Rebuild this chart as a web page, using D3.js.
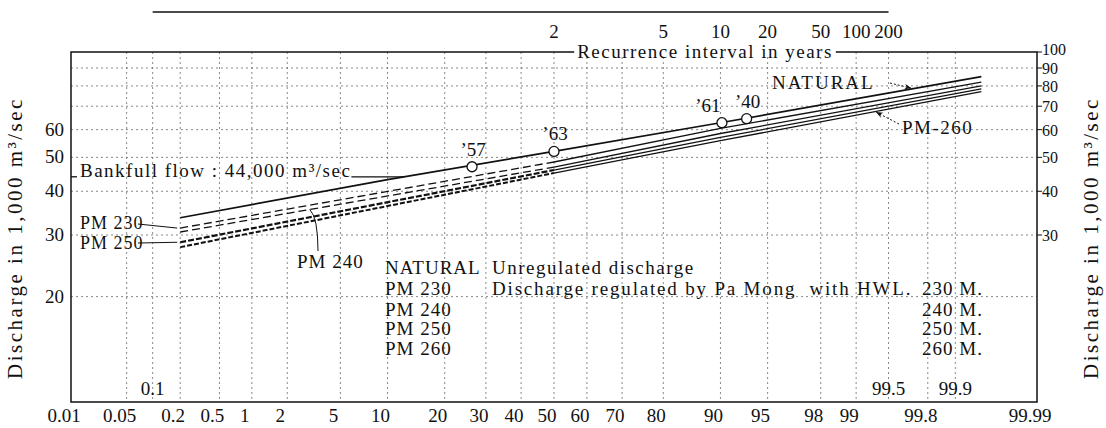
<!DOCTYPE html>
<html>
<head>
<meta charset="utf-8">
<script src="https://cdn.jsdelivr.net/npm/d3@7"></script>
<style>
  body { margin: 0; background: #fff; }
  text { font-family: "Liberation Serif", "Times New Roman", serif; fill: #111; }
</style>
</head>
<body>
<svg id="chart" width="1106" height="428"></svg>
<script>
// Flood frequency on log-probability paper:
// non-exceedance probability (%) against discharge (1,000 m3/sec).

const probTicks = [0.01, 0.05, 0.2, 0.5, 1, 2, 5, 10, 20, 30, 40, 50, 60, 70, 80, 90, 95, 98, 99, 99.8, 99.99];
const probTicksInner = [0.1, 99.5, 99.9];
const probGrid = [0.05, 0.1, 0.2, 0.5, 1, 2, 5, 10, 20, 30, 40, 50, 60, 70, 80, 90, 95, 98, 99, 99.5, 99.8, 99.9];
const returnPeriods = [2, 5, 10, 20, 50, 100, 200];
const qTicksLeft = [20, 30, 40, 50, 60];
const qTicksRight = [30, 40, 50, 60, 70, 80, 90, 100];
const qGrid = [20, 30, 40, 50, 60, 70, 80, 90];

const seriesNames = ["NATURAL", "PM 230", "PM 240", "PM 250", "PM 260"];
const natural = [[0.2, 33.6], [10, 43.2], [50, 52.0], [90, 62.8], [99.95, 85.0]];
const pm230   = [[0.2, 31.4], [50, 48.5], [90, 60.5], [99.95, 82.0]];
const pm240   = [[0.2, 30.6], [50, 46.9], [90, 58.5], [99.95, 80.0]];
const pm250   = [[0.2, 28.6], [50, 46.0], [90, 57.0], [99.95, 78.5]];
const pm260   = [[0.2, 27.7], [50, 45.1], [90, 55.8], [99.95, 77.0]];
const legendText = ["Unregulated discharge", "Discharge regulated by Pa Mong  with HWL.", "", "", ""];
const legendLevel = ["", "230 M.", "240 M.", "250 M.", "260 M."];

const floodYears = ["\u201957", "\u201963", "\u201961", "\u201940"];
const floodProb = [26.4, 50, 90.2, 93.1];
const floodQ = [47.0, 52.0, 62.8, 64.5];

const bankfullQ = 44;
const dashedBelow = 50;   // regulated curves are dashed up to this probability

// inverse standard normal CDF (Acklam)
function probit(p) {
  const a = [-3.969683028665376e+01, 2.209460984245205e+02, -2.759285104469687e+02, 1.383577518672690e+02, -3.066479806614716e+01, 2.506628277459239e+00];
  const b = [-5.447609879822406e+01, 1.615858368580409e+02, -1.556989798598866e+02, 6.680131188771972e+01, -1.328068155288572e+01];
  const c = [-7.784894002430293e-03, -3.223964580411365e-01, -2.400758277161838e+00, -2.549732539343734e+00, 4.374664141464968e+00, 2.938163982698783e+00];
  const d = [7.784695709041462e-03, 3.224671290700398e-01, 2.445134137142996e+00, 3.754408661907416e+00];
  const pl = 0.02425, ph = 1 - pl;
  let q, r;
  if (p < pl) {
    q = Math.sqrt(-2 * Math.log(p));
    return (((((c[0]*q+c[1])*q+c[2])*q+c[3])*q+c[4])*q+c[5]) / ((((d[0]*q+d[1])*q+d[2])*q+d[3])*q+1);
  }
  if (p <= ph) {
    q = p - 0.5; r = q * q;
    return (((((a[0]*r+a[1])*r+a[2])*r+a[3])*r+a[4])*r+a[5])*q / (((((b[0]*r+b[1])*r+b[2])*r+b[3])*r+b[4])*r+1);
  }
  q = Math.sqrt(-2 * Math.log(1 - p));
  return -(((((c[0]*q+c[1])*q+c[2])*q+c[3])*q+c[4])*q+c[5]) / ((((d[0]*q+d[1])*q+d[2])*q+d[3])*q+1);
}
function erf(v) {
  const s = Math.sign(v); v = Math.abs(v);
  const t = 1 / (1 + 0.3275911 * v);
  const yv = 1 - (((((1.061405429 * t - 1.453152027) * t) + 1.421413741) * t - 0.284496736) * t + 0.254829592) * t * Math.exp(-v * v);
  return s * yv;
}

const L = 71, R = 1037, T = 52, B = 402;
const zScale = d3.scaleLinear().domain([probit(0.0001), probit(0.9999)]).range([L, R]);
const x = p => zScale(probit(p / 100));
const y = d3.scaleLog().domain([10, 100]).range([B, T]);

// discharge on a series at probability p (straight between read points on this paper)
function qAt(series, p) {
  const z = probit(p / 100);
  for (let i = 0; i < series.length - 1; i++) {
    const z0 = probit(series[i][0] / 100), z1 = probit(series[i + 1][0] / 100);
    if (z <= z1 || i === series.length - 2) {
      const t = (z - z0) / (z1 - z0);
      return Math.pow(10, Math.log10(series[i][1]) + t * (Math.log10(series[i + 1][1]) - Math.log10(series[i][1])));
    }
  }
}
// probability where a series reaches discharge q
function pAtQ(series, q) {
  for (let i = 0; i < series.length - 1; i++) {
    if (q <= series[i + 1][1]) {
      const z0 = probit(series[i][0] / 100), z1 = probit(series[i + 1][0] / 100);
      const t = (Math.log10(q) - Math.log10(series[i][1])) / (Math.log10(series[i + 1][1]) - Math.log10(series[i][1]));
      const z = z0 + t * (z1 - z0);
      return 100 * (0.5 * (1 + erf(z / Math.SQRT2)));
    }
  }
}

const svg = d3.select("#chart");
const fsNum = 19;   // numerals
const fsTxt = 19;   // words
const ls = 1.5;     // letter spacing for words

svg.append("defs").append("marker").attr("id", "arrow")
  .attr("viewBox", "0 0 10 10").attr("refX", 9).attr("refY", 5)
  .attr("markerWidth", 7).attr("markerHeight", 7).attr("orient", "auto-start-reverse")
  .append("path").attr("d", "M0,1 L10,5 L0,9 L3,5 Z").attr("fill", "#111");

const grid = svg.append("g").attr("stroke", "#555").attr("stroke-width", 0.7)
  .attr("stroke-dasharray", "2,3").attr("fill", "none");
grid.selectAll("line.v").data(probGrid).join("line").attr("class", "v")
  .attr("x1", d => x(d)).attr("x2", d => x(d)).attr("y1", T).attr("y2", B);
grid.selectAll("line.h").data(qGrid).join("line").attr("class", "h")
  .attr("x1", L).attr("x2", R).attr("y1", d => y(d)).attr("y2", d => y(d));

// frame
svg.append("rect").attr("x", L).attr("y", T).attr("width", R - L).attr("height", B - T)
  .attr("fill", "none").attr("stroke", "#111").attr("stroke-width", 1.5);

// bottom probability labels
svg.append("g").selectAll("text").data(probTicks).join("text")
  .attr("x", d => x(d) - 7).attr("y", B + 20).attr("text-anchor", "middle")
  .attr("font-size", fsNum).text(d => d);
svg.append("g").selectAll("text").data(probTicksInner).join("text")
  .attr("x", d => x(d)).attr("y", B - 7).attr("text-anchor", "middle")
  .attr("font-size", fsNum).text(d => d);

// recurrence interval axis on top
const yTop = 12;
svg.append("line").attr("x1", x(0.1)).attr("x2", x(99.5)).attr("y1", yTop).attr("y2", yTop)
  .attr("stroke", "#111").attr("stroke-width", 1.6);
svg.append("g").selectAll("text").data(returnPeriods).join("text")
  .attr("x", d => x(100 * (1 - 1 / d))).attr("y", 38).attr("text-anchor", "middle")
  .attr("font-size", fsNum).text(d => d);
const rBack = svg.append("rect").attr("fill", "#fff");
const rTitle = svg.append("text").attr("x", 705).attr("y", T + 6).attr("text-anchor", "middle")
  .attr("font-size", fsTxt).attr("letter-spacing", ls).text("Recurrence interval in years");
const rb = rTitle.node().getBBox();
rBack.attr("x", rb.x - 3).attr("y", T - 3).attr("width", rb.width + 6).attr("height", 6);

// discharge labels
svg.append("g").selectAll("text").data(qTicksLeft).join("text")
  .attr("x", L - 7).attr("y", d => y(d) + 6).attr("text-anchor", "end")
  .attr("font-size", fsNum).text(d => d);
const rightAxis = svg.append("g");
rightAxis.selectAll("line").data(qTicksRight).join("line")
  .attr("x1", R).attr("x2", R + 5).attr("y1", d => y(d)).attr("y2", d => y(d))
  .attr("stroke", "#111").attr("stroke-width", 1);
rightAxis.selectAll("text").data(qTicksRight).join("text")
  .attr("x", R + 5).attr("y", d => y(d) + (d === 100 ? 3 : 6)).attr("font-size", 16).text(d => d);

const yTitle = "Discharge in 1,000 m\u00b3/sec";
svg.append("text").attr("transform", "translate(22,238) rotate(-90)").attr("text-anchor", "middle")
  .attr("font-size", 21).attr("letter-spacing", 2.5).text(yTitle);
svg.append("text").attr("transform", "translate(1098,238) rotate(-90)").attr("text-anchor", "middle")
  .attr("font-size", 21).attr("letter-spacing", 2.5).text(yTitle);

// bankfull flow
const bf = svg.append("text").attr("x", L + 9).attr("y", y(bankfullQ)).attr("font-size", fsTxt)
  .attr("letter-spacing", ls).text("Bankfull flow : 44,000 m\u00b3/sec");
const bfEnd = L + 9 + bf.node().getBBox().width;
const bfCross = x(pAtQ(natural, bankfullQ));
svg.append("line").attr("x1", L).attr("x2", L + 6).attr("y1", y(bankfullQ)).attr("y2", y(bankfullQ))
  .attr("stroke", "#111").attr("stroke-width", 1.3);
svg.append("line").attr("x1", bfEnd).attr("x2", bfCross).attr("y1", y(bankfullQ)).attr("y2", y(bankfullQ))
  .attr("stroke", "#111").attr("stroke-width", 1.3);

// curves
const line = d3.line().x(d => x(d[0])).y(d => y(d[1]));
const regulated = [pm230, pm240, pm250, pm260];
const dashStyle = [
  { dash: "8,4", w: 1.3 },
  { dash: "8,4", w: 1.3 },
  { dash: "6,2", w: 2.2 },
  { dash: "5,2", w: 2.0 }
];
const curves = svg.append("g").attr("fill", "none").attr("stroke", "#111");
regulated.forEach((s, i) => {
  curves.append("path").attr("d", line(s.filter(d => d[0] <= dashedBelow)))
    .attr("stroke-width", dashStyle[i].w).attr("stroke-dasharray", dashStyle[i].dash);
  curves.append("path").attr("d", line(s.filter(d => d[0] >= dashedBelow)))
    .attr("stroke-width", 1.3);
});
curves.append("path").attr("d", line(natural)).attr("stroke-width", 1.7);

// historic floods
svg.append("g").selectAll("circle").data(floodProb).join("circle")
  .attr("cx", d => x(d)).attr("cy", (d, i) => y(floodQ[i])).attr("r", 5)
  .attr("fill", "#fff").attr("stroke", "#111").attr("stroke-width", 1.3);
svg.append("g").selectAll("text").data(floodYears).join("text")
  .attr("x", (d, i) => x(floodProb[i]) - (i === 2 ? 14 : -1)).attr("y", (d, i) => y(floodQ[i]) - 11)
  .attr("text-anchor", "middle").attr("font-size", fsNum).text(d => d);

// curve labels
const leader = svg.append("g").attr("stroke", "#111").attr("stroke-width", 1).attr("fill", "none");
svg.append("text").attr("x", 80).attr("y", 229).attr("font-size", 18).attr("letter-spacing", 1).text(seriesNames[1]);
svg.append("text").attr("x", 80).attr("y", 249).attr("font-size", 18).attr("letter-spacing", 1).text(seriesNames[3]);
leader.append("line").attr("x1", 138).attr("y1", 224).attr("x2", x(0.2) - 3).attr("y2", y(pm230[0][1]));
leader.append("line").attr("x1", 138).attr("y1", 243).attr("x2", x(0.2) - 3).attr("y2", y(pm250[0][1]));
svg.append("text").attr("x", 297).attr("y", 268).attr("font-size", fsTxt).attr("letter-spacing", 1).text(seriesNames[2]);
leader.append("path").attr("d", `M318,251 Q318,${y(qAt(pm240, 3)) + 8} ${x(3)},${y(qAt(pm240, 3))}`);

svg.append("text").attr("x", 772).attr("y", 89).attr("font-size", fsTxt).attr("letter-spacing", 2).text(seriesNames[0]);
leader.append("line").attr("x1", 890).attr("y1", 83).attr("x2", x(99.7)).attr("y2", y(qAt(natural, 99.7)) - 1)
  .attr("stroke-dasharray", "2,2").attr("marker-end", "url(#arrow)");
svg.append("text").attr("x", 902).attr("y", 134).attr("font-size", fsTxt).attr("letter-spacing", 1.5).text("PM-260");
leader.append("line").attr("x1", 899).attr("y1", 124).attr("x2", x(99.35)).attr("y2", y(qAt(pm260, 99.35)) + 1)
  .attr("stroke-dasharray", "2,2").attr("marker-end", "url(#arrow)");

// legend
const rows = [274, 295, 316, 335, 355];
const legend = svg.append("g");
legend.selectAll("text.n").data(seriesNames).join("text").attr("class", "n")
  .attr("x", 385).attr("y", (d, i) => rows[i]).attr("font-size", fsTxt).attr("letter-spacing", 1).text(d => d);
legend.selectAll("text.d").data(legendText).join("text").attr("class", "d")
  .attr("x", 492).attr("y", (d, i) => rows[i]).attr("font-size", fsTxt).attr("letter-spacing", ls)
  .style("white-space", "pre").text(d => d)
  .each(function (d, i) { if (i === 1) d3.select(this).attr("textLength", 420).attr("lengthAdjust", "spacing"); });
legend.selectAll("text.m").data(legendLevel).join("text").attr("class", "m")
  .attr("x", 983).attr("y", (d, i) => rows[i]).attr("text-anchor", "end").attr("font-size", fsTxt)
  .attr("letter-spacing", 1).text(d => d);
</script>
</body>
</html>
